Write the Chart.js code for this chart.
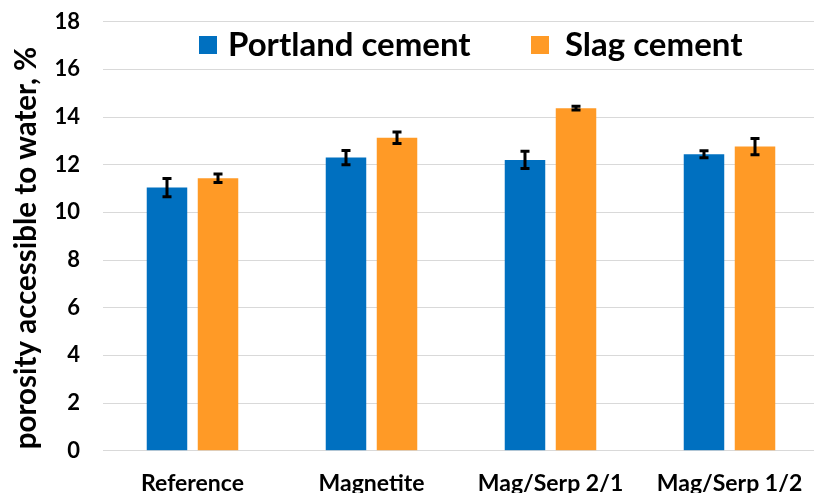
<!DOCTYPE html>
<html><head><meta charset="utf-8">
<script src="https://cdn.jsdelivr.net/npm/chart.js@4/dist/chart.umd.min.js"></script>
<style>
html,body{margin:0;padding:0;background:#fff;overflow:hidden;width:814px;height:493px}
#wrap{position:relative;width:819px;height:493px}
canvas{display:block}
</style></head>
<body><div id="wrap"><canvas id="c" width="819" height="493"></canvas></div>
<script>
const categories = ['Reference', 'Magnetite', 'Mag/Serp 2/1', 'Mag/Serp 1/2'];
const seriesNames = ['Portland cement', 'Slag cement'];
const portland = [11.04, 12.30, 12.20, 12.44];
const portlandErr = [0.38, 0.30, 0.36, 0.15];
const slag = [11.43, 13.13, 14.37, 12.76];
const slagErr = [0.18, 0.24, 0.08, 0.34];
const yTicks = [0, 2, 4, 6, 8, 10, 12, 14, 16, 18];
const yTitle = 'porosity accessible to water, %';

const FONT = 'Lato, "Open Sans", sans-serif';
const colors = ['#0070C0', '#FF9A26'];

const errorBars = {
  id: 'errorBars',
  afterDatasetsDraw(chart) {
    const ctx = chart.ctx, y = chart.scales.y;
    chart.data.datasets.forEach((ds, i) => {
      const meta = chart.getDatasetMeta(i);
      meta.data.forEach((el, j) => {
        const v = ds.data[j], e = ds.errors[j];
        const top = y.getPixelForValue(v + e), bot = y.getPixelForValue(v - e);
        ctx.save();
        ctx.strokeStyle = '#000';
        ctx.lineWidth = 3;
        ctx.beginPath();
        ctx.moveTo(el.x, top); ctx.lineTo(el.x, bot);
        ctx.moveTo(el.x - 4.5, top); ctx.lineTo(el.x + 4.5, top);
        ctx.moveTo(el.x - 4.5, bot); ctx.lineTo(el.x + 4.5, bot);
        ctx.stroke();
        ctx.restore();
      });
    });
  }
};

const legendAndTitle = {
  id: 'legendAndTitle',
  afterDraw(chart) {
    const ctx = chart.ctx;
    const items = [{box: 199, text: 228}, {box: 531, text: 565}];
    ctx.save();
    ctx.font = 'bold 33px ' + FONT;
    ctx.textBaseline = 'alphabetic';
    ctx.textAlign = 'left';
    chart.data.datasets.forEach((ds, i) => {
      ctx.fillStyle = ds.backgroundColor;
      ctx.fillRect(items[i].box, 36, 18, 18);
      ctx.fillStyle = '#000';
      ctx.fillText(ds.label, items[i].text, 56);
    });
    ctx.restore();
    // y axis title
    ctx.save();
    ctx.translate(26, 248);
    ctx.rotate(-Math.PI / 2);
    ctx.font = 'bold 29.5px ' + FONT;
    ctx.fillStyle = '#000';
    ctx.textAlign = 'center';
    ctx.textBaseline = 'middle';
    ctx.fillText(yTitle, 0, 0);
    ctx.restore();
  }
};

new Chart(document.getElementById('c'), {
  type: 'bar',
  data: {
    labels: categories,
    datasets: [
      {label: seriesNames[0], data: portland, errors: portlandErr, backgroundColor: colors[0],
       categoryPercentage: 0.57, barPercentage: 0.794},
      {label: seriesNames[1], data: slag, errors: slagErr, backgroundColor: colors[1],
       categoryPercentage: 0.57, barPercentage: 0.794}
    ]
  },
  options: {
    responsive: false,
    animation: false,
    devicePixelRatio: 1,
    layout: {padding: {top: 21.7, left: 0, right: 0, bottom: 0}},
    plugins: {legend: {display: false}, tooltip: {enabled: false}},
    scales: {
      x: {
        offset: true,
        grid: {display: false},
        border: {display: true, color: '#d9d9d9', width: 1},
        ticks: {color: '#000', font: {family: FONT, weight: 'bold', size: 23}, padding: 11, maxRotation: 0},
        afterFit(s) { s.height = 42.3; }
      },
      y: {
        min: 0, max: 18,
        afterBuildTicks(s) { s.ticks = yTicks.map(v => ({value: v})); },
        grid: {color: '#d9d9d9', lineWidth: 1, drawTicks: false},
        border: {display: false},
        ticks: {color: '#000', font: {family: FONT, weight: 'bold', size: 22}, padding: 23},
        title: {display: false, text: yTitle},
        afterFit(s) { s.width = 103; s.paddingTop = 0; s.paddingBottom = 0; }
      }
    }
  },
  plugins: [errorBars, legendAndTitle]
});
</script>
</body></html>
